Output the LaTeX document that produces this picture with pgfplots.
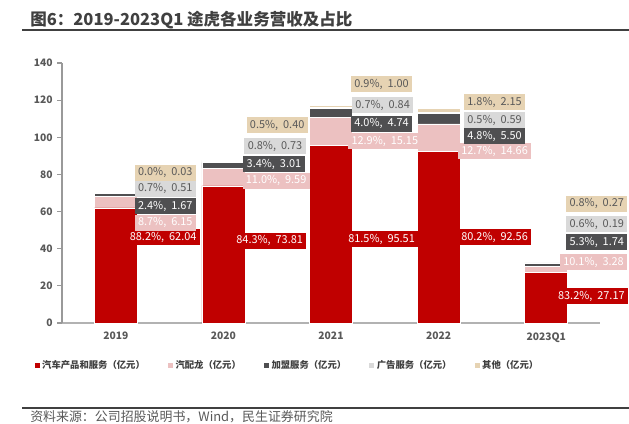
\documentclass[border=0pt]{standalone}
\usepackage{pgfplots}
\pgfplotsset{compat=1.18}
\usepackage{fontspec}
\setmainfont{Noto Sans CJK SC}
\definecolor{cA}{HTML}{C00000}
\definecolor{cB}{HTML}{ECC1C1}
\definecolor{cC}{HTML}{4F4F51}
\definecolor{cD}{HTML}{D9D9D9}
\definecolor{cE}{HTML}{E6D3B3}
\definecolor{txt}{RGB}{89,89,89}
\definecolor{ttl}{RGB}{64,64,64}
\newcommand{\px}[2]{({#1*0.75pt},{(424-#2)*0.75pt})}
\tikzset{lab/.style={inner xsep=2.5pt, inner ysep=0pt, minimum height=12.5pt,
    font=\fontsize{8.2}{9}\selectfont, anchor=center}}
\newcommand{\lab}[5]{\node[lab, fill=#3, text=#4] at (axis cs:#1,#2) {#5};}
\begin{document}
\begin{tikzpicture}
\path[use as bounding box, fill=white] (0,0) rectangle (471.75pt,318pt);
\node[anchor=west, inner sep=0pt, font=\bfseries\fontsize{12.4}{14}\selectfont, text=ttl] at \px{30}{20} {图6：2019-2023Q1 途虎各业务营收及占比};
\draw[line width=1.1pt, color=ttl] \px{22}{30} -- \px{629}{30};
\draw[line width=1.1pt, color=ttl] \px{22}{408} -- \px{629}{408};
\node[anchor=west, inner sep=0pt, font=\fontsize{9.7}{11}\selectfont, text=txt] at \px{30}{416.5} {资料来源：公司招股说明书，Wind，民生证券研究院};
\begin{axis}[
  at={(46.5pt,75.75pt)}, anchor=south west,
  scale only axis, width=403.5pt, height=195pt,
  xmin=-0.5, xmax=4.5, ymin=0, ymax=140,
  ybar stacked, bar width=32.25pt,
  xtick={0,1,2,3,4}, xticklabels={2019,2020,2021,2022,2023Q1},
  ytick={0,20,...,140},
  axis x line*=bottom, axis y line*=left,
  x axis line style={draw=gray!60, line width=0.8pt},
  y axis line style={draw=gray!80, line width=0.8pt},
  xtick style={draw=none},
  ytick style={draw=gray!80, line width=0.8pt},
  tick align=outside, major tick length=3.5pt,
  /pgf/number format/assume math mode=true,
  tick label style={font=\bfseries\fontsize{7.7}{9}\selectfont, text=txt},
  clip=false,
  legend style={at={(0.418,-0.1615)}, anchor=center, draw=none, fill=none,
    legend columns=5, font=\bfseries\fontsize{7}{8}\selectfont, text=ttl,
    /tikz/every even column/.append style={column sep=15pt},
    /tikz/every odd column/.append style={column sep=0pt},
    nodes={inner xsep=1.5pt},
    inner sep=0pt},
  legend image code/.code={\fill[#1] (0pt,-2.3pt) rectangle (4.6pt,2.3pt);},
  after end axis/.code={
    \lab{0.44}{46.3}{cA}{white}{88.2\%,\hspace{0.45em}62.04}
    \lab{0.46}{53.9}{cB}{white}{8.7\%,\hspace{0.45em}6.15}
    \lab{0.46}{63.0}{cC}{white}{2.4\%,\hspace{0.45em}1.67}
    \lab{0.46}{72.2}{cD}{txt}{0.7\%,\hspace{0.45em}0.51}
    \lab{0.46}{80.8}{cE}{txt}{0.0\%,\hspace{0.45em}0.03}
    \lab{1.43}{44.2}{cA}{white}{84.3\%,\hspace{0.45em}73.81}
    \lab{1.49}{76.5}{cB}{white}{11.0\%,\hspace{0.45em}9.59}
    \lab{1.47}{85.6}{cC}{white}{3.4\%,\hspace{0.45em}3.01}
    \lab{1.48}{95.3}{cD}{txt}{0.8\%,\hspace{0.45em}0.73}
    \lab{1.50}{106.6}{cE}{txt}{0.5\%,\hspace{0.45em}0.40}
    \lab{2.47}{45.2}{cA}{white}{81.5\%,\hspace{0.45em}95.51}
    \lab{2.50}{98.0}{cB}{white}{12.9\%,\hspace{0.45em}15.15}
    \lab{2.47}{107.2}{cC}{white}{4.0\%,\hspace{0.45em}4.74}
    \lab{2.48}{117.4}{cD}{txt}{0.7\%,\hspace{0.45em}0.84}
    \lab{2.47}{128.7}{cE}{txt}{0.9\%,\hspace{0.45em}1.00}
    \lab{3.52}{46.3}{cA}{white}{80.2\%,\hspace{0.45em}92.56}
    \lab{3.52}{92.6}{cB}{white}{12.7\%,\hspace{0.45em}14.66}
    \lab{3.52}{100.7}{cC}{white}{4.8\%,\hspace{0.45em}5.50}
    \lab{3.52}{109.3}{cD}{txt}{0.5\%,\hspace{0.45em}0.59}
    \lab{3.52}{119.0}{cE}{txt}{1.8\%,\hspace{0.45em}2.15}
    \lab{4.42}{14.5}{cA}{white}{83.2\%,\hspace{0.45em}27.17}
    \lab{4.44}{32.8}{cB}{white}{10.1\%,\hspace{0.45em}3.28}
    \lab{4.47}{43.6}{cC}{white}{5.3\%,\hspace{0.45em}1.74}
    \lab{4.47}{53.3}{cD}{txt}{0.6\%,\hspace{0.45em}0.19}
    \lab{4.47}{64.1}{cE}{txt}{0.8\%,\hspace{0.45em}0.27}
  },
]
\addplot[fill=cA, draw=white, line width=0.4pt] coordinates {(0,62.04) (1,73.81) (2,95.51) (3,92.56) (4,27.17)};
\addplot[fill=cB, draw=white, line width=0.4pt] coordinates {(0,6.15) (1,9.59) (2,15.15) (3,14.66) (4,3.28)};
\addplot[fill=cC, draw=white, line width=0.4pt] coordinates {(0,1.67) (1,3.01) (2,4.74) (3,5.50) (4,1.74)};
\addplot[fill=cD, draw=white, line width=0.4pt] coordinates {(0,0.51) (1,0.73) (2,0.84) (3,0.59) (4,0.19)};
\addplot[fill=cE, draw=white, line width=0.4pt] coordinates {(0,0.03) (1,0.40) (2,1.00) (3,2.15) (4,0.27)};
\legend{汽车产品和服务（亿元）,汽配龙（亿元）,加盟服务（亿元）,广告服务（亿元）,其他（亿元）}
\end{axis}
\end{tikzpicture}
\end{document}
